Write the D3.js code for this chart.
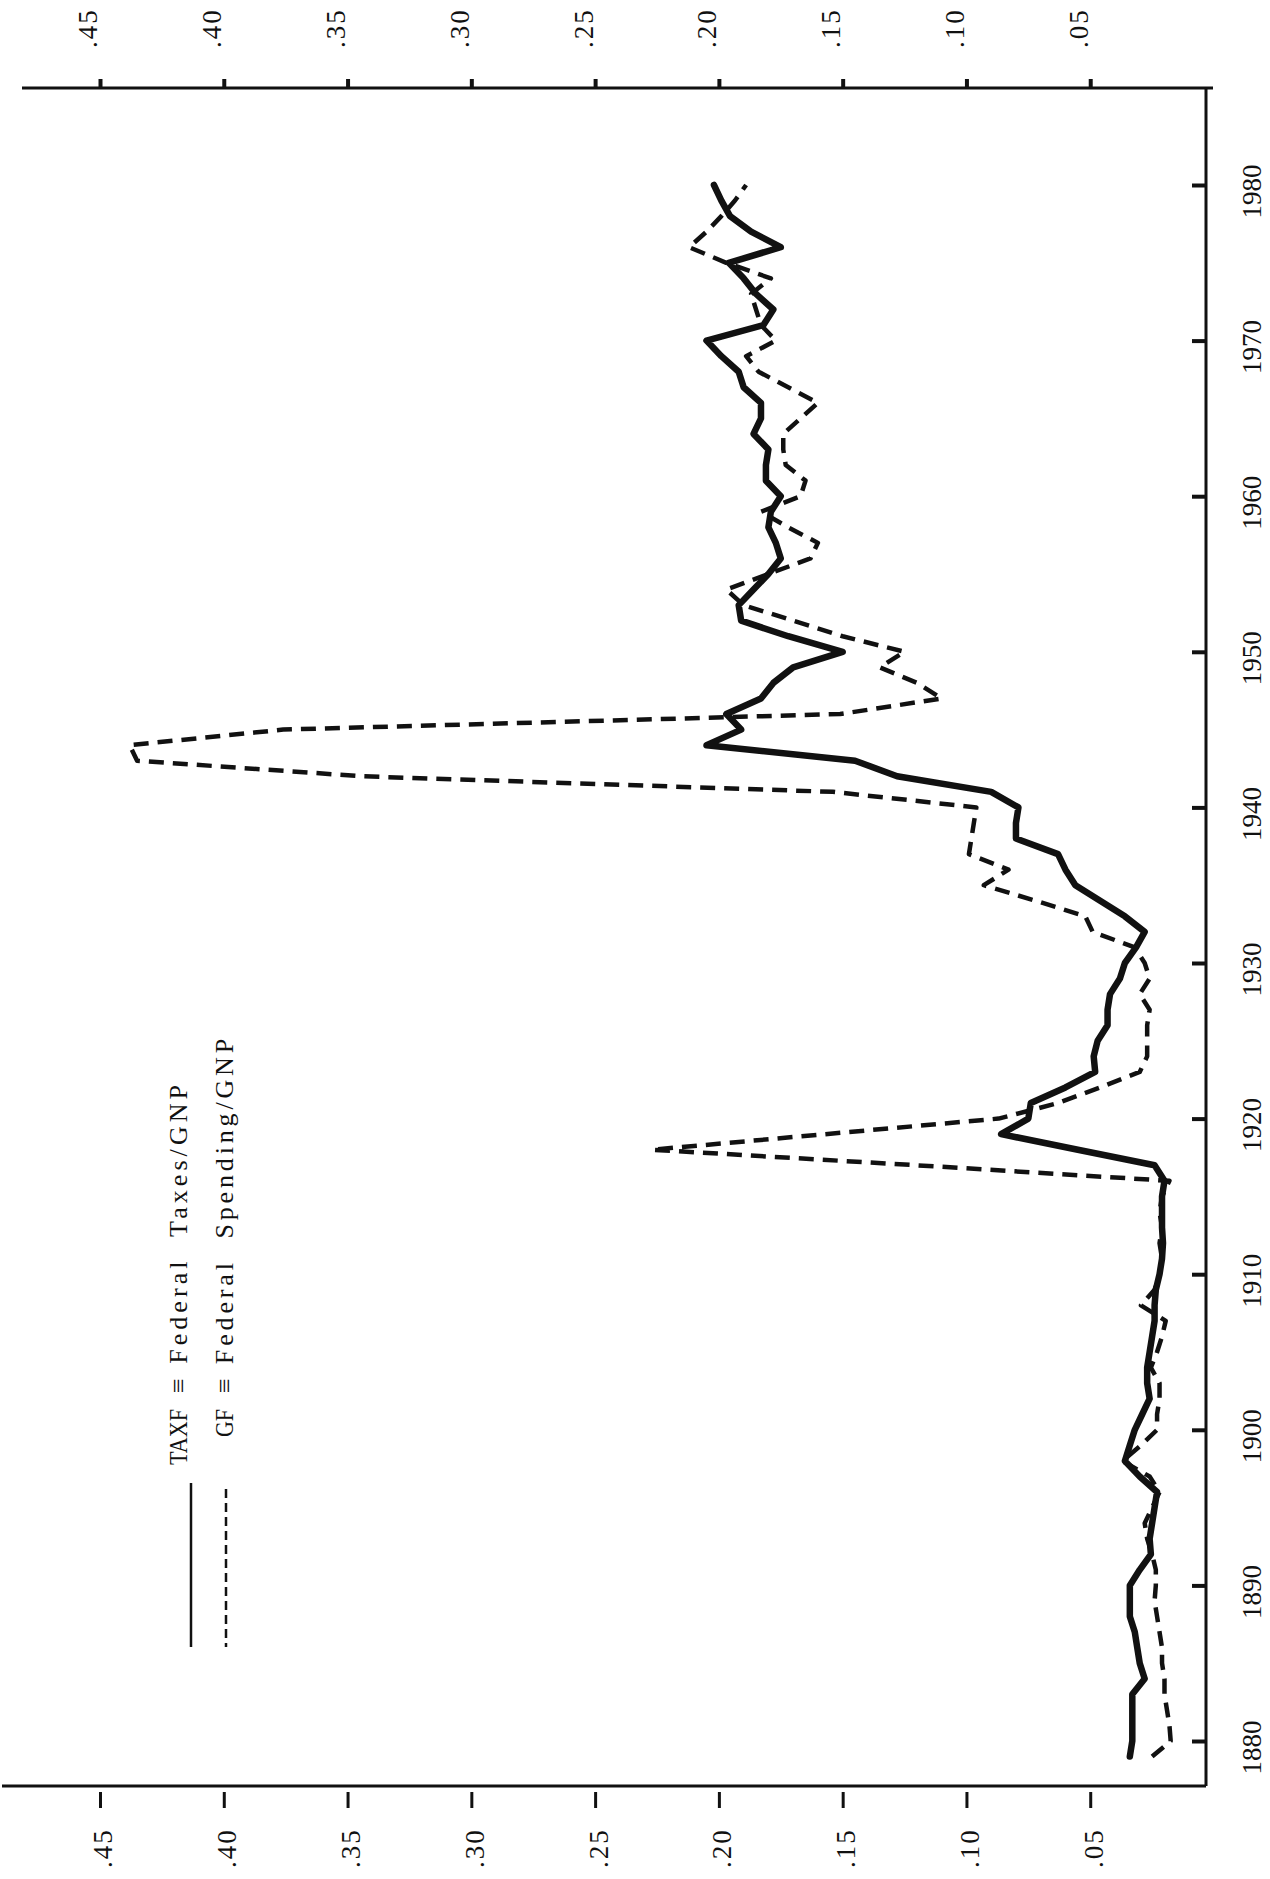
<!DOCTYPE html>
<html>
<head>
<meta charset="utf-8">
<script src="https://cdn.jsdelivr.net/npm/d3@7"></script>
<style>
  body { margin: 0; background: #fff; }
  svg { display: block; }
  text { font-family: "Liberation Serif", "DejaVu Serif", serif; fill: #111; }
</style>
</head>
<body>
<svg id="chart" width="1270" height="1879"></svg>
<script>
// data (share of GNP)
const startYear = 1879;
const taxf = [
  .034,                                                        // 1879
  .033, .033, .033, .033, .028, .030, .031, .032, .034, .034,  // 1880s
  .034, .030, .0255, .026, .025, .024, .023, .030, .036, .034, // 1890s
  .032, .029, .026, .027, .027, .026, .025, .024, .024, .0235, // 1900s
  .022, .021, .0206, .021, .021, .021, .020, .024, .055, .086, // 1910s
  .075, .074, .060, .048, .0486, .047, .043, .043, .042, .038, // 1920s
  .036, .0315, .028, .036, .046, .056, .060, .063, .080, .080, // 1930s
  .079, .090, .128, .145, .205, .191, .197, .183, .178, .170,  // 1940s
  .150, .172, .191, .192, .186, .180, .175, .177, .180, .179,  // 1950s
  .175, .181, .181, .180, .186, .183, .183, .190, .192, .199,  // 1960s
  .205, .182, .178, .185, .190, .196, .175, .187, .1955, .199, // 1970s
  .202                                                         // 1980
];
const gf = [
  .025,                                                        // 1879
  .0175, .018, .019, .020, .020, .021, .021, .022, .023, .024, // 1880s
  .0235, .0235, .025, .027, .028, .025, .022, .026, .037, .0295, // 1890s
  .023, .023, .022, .022, .0255, .023, .021, .0195, .0295, .024, // 1900s
  .022, .021, .022, .021, .022, .021, .018, .120, .227, .157,  // 1910s
  .087, .063, .046, .030, .027, .027, .027, .026, .030, .026,  // 1920s
  .028, .032, .049, .052, .072, .093, .083, .099, .098, .097,  // 1930s
  .096, .154, .344, .435, .438, .376, .151, .110, .120, .135,  // 1940s
  .125, .150, .170, .190, .197, .180, .163, .160, .172, .183,  // 1950s
  .167, .165, .173, .174, .174, .167, .160, .172, .184, .189,  // 1960s
  .177, .183, .185, .187, .179, .197, .212, .205, .199, .1935, // 1970s
  .189                                                         // 1980
];
const valueTicks = [.05, .10, .15, .20, .25, .30, .35, .40, .45];
const yearTicks = [1880, 1890, 1900, 1910, 1920, 1930, 1940, 1950, 1960, 1970, 1980];
const legendItems = [
  { name: "TAXF", label: "\u2261 Federal  Taxes/GNP", dash: null },
  { name: "GF", label: "\u2261 Federal  Spending/GNP", dash: "9 5" }
];

const svg = d3.select("#chart");

// the chart is printed turned on its side: years run up, values run left
const x = d3.scaleLinear().domain([0, .45]).range([1214, 100]);
const y = d3.scaleLinear().domain([1880, 1980]).range([1741, 185]);

const topY = 88, bottomY = 1786, rightX = 1206;
const fmt = d => d3.format(".2f")(d).replace("0.", ".");

// frame lines
svg.append("line").attr("x1", 22).attr("x2", rightX + 7).attr("y1", topY).attr("y2", topY)
  .attr("stroke", "#111").attr("stroke-width", 3);
svg.append("line").attr("x1", 2).attr("x2", rightX).attr("y1", bottomY).attr("y2", bottomY)
  .attr("stroke", "#111").attr("stroke-width", 3);
svg.append("line").attr("x1", rightX).attr("x2", rightX).attr("y1", topY).attr("y2", bottomY)
  .attr("stroke", "#111").attr("stroke-width", 3);

// top value axis
let topAxis = svg.append("g").attr("transform", `translate(0,${topY})`)
  .call(d3.axisTop(x).tickValues(valueTicks).tickSize(9).tickSizeOuter(0).tickFormat(fmt));
topAxis.select(".domain").remove();
topAxis.selectAll(".tick line").attr("stroke", "#111").attr("stroke-width", 4);
topAxis.selectAll(".tick text")
  .attr("x", null).attr("y", null).attr("dy", "0.33em")
  .attr("transform", "translate(-12,-40) rotate(-90)")
  .attr("text-anchor", "start")
  .style("font-size", "27px").style("letter-spacing", "2px");

// bottom value axis
let botAxis = svg.append("g").attr("transform", `translate(0,${bottomY})`)
  .call(d3.axisBottom(x).tickValues(valueTicks).tickSize(22).tickSizeOuter(0).tickFormat(fmt));
botAxis.select(".domain").remove();
botAxis.selectAll(".tick line").attr("y1", 6).attr("stroke", "#111").attr("stroke-width", 3);
botAxis.selectAll(".tick text")
  .attr("x", null).attr("y", null).attr("dy", "0.33em")
  .attr("transform", "translate(3,82) rotate(-90)")
  .attr("text-anchor", "start")
  .style("font-size", "27px").style("letter-spacing", "2px");

// year axis on the right, ticks pointing inward
let yearAxis = svg.append("g").attr("transform", `translate(${rightX},0)`)
  .call(d3.axisLeft(y).tickValues(yearTicks).tickSize(14).tickSizeOuter(0).tickFormat(d3.format("d")));
yearAxis.select(".domain").remove();
yearAxis.selectAll(".tick line").attr("stroke", "#111").attr("stroke-width", 4);
yearAxis.selectAll(".tick text")
  .attr("x", null).attr("y", null).attr("dy", "0.33em")
  .attr("transform", "translate(46,6) rotate(-90)")
  .attr("text-anchor", "middle")
  .style("font-size", "27px");

// series
const toPoints = vals => vals.map((v, i) => ({ year: startYear + i, v: v }));
const line = d3.line().x(d => x(d.v)).y(d => y(d.year));

svg.append("path").datum(toPoints(gf))
  .attr("d", line).attr("fill", "none").attr("stroke", "#111")
  .attr("stroke-width", 4.5).attr("stroke-dasharray", "15 9")
  .attr("stroke-linejoin", "round");

svg.append("path").datum(toPoints(taxf))
  .attr("d", line).attr("fill", "none").attr("stroke", "#111")
  .attr("stroke-width", 6.5).attr("stroke-linejoin", "round").attr("stroke-linecap", "round");

// legend (also turned on its side); typewritten, so names end where the "≡" starts
const legend = svg.append("g");
legendItems.forEach((item, i) => {
  let lx = 191 + i * 35;
  let tx = 187 + i * 46;
  legend.append("line").attr("x1", lx).attr("x2", lx).attr("y1", 1483 + i * 6).attr("y2", 1647)
    .attr("stroke", "#111").attr("stroke-width", 2.5)
    .attr("stroke-dasharray", item.dash);
  legend.append("text")
    .attr("transform", `translate(${tx},1409) rotate(-90)`)
    .attr("text-anchor", "end")
    .attr("textLength", item.name.length * 14)
    .attr("lengthAdjust", "spacingAndGlyphs")
    .style("font-size", "26px")
    .text(item.name);
  legend.append("text")
    .attr("transform", `translate(${tx},1393) rotate(-90)`)
    .attr("text-anchor", "start")
    .attr("textLength", item.label.length * 15.4)
    .attr("lengthAdjust", "spacing")
    .style("font-size", "26px").style("white-space", "pre")
    .text(item.label);
});
</script>
</body>
</html>
